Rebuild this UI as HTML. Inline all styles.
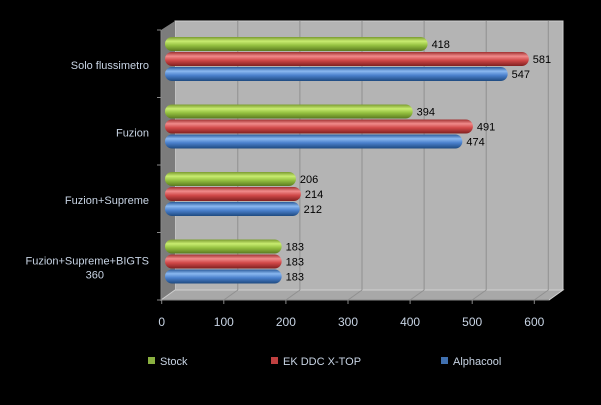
<!DOCTYPE html>
<html><head><meta charset="utf-8">
<style>
body{margin:0;background:#000;width:601px;height:405px;overflow:hidden;font-family:"Liberation Sans",sans-serif;}
svg{display:block}
</style></head>
<body>
<svg id="chart" width="601" height="405" xmlns="http://www.w3.org/2000/svg">
<defs>
<linearGradient id="gG" x1="0" y1="0" x2="0" y2="1"><stop offset="0" stop-color="#7a9a30"/><stop offset="0.3" stop-color="#c8ec70"/><stop offset="0.6" stop-color="#94c040"/><stop offset="1" stop-color="#5a7a20"/></linearGradient>
<linearGradient id="gR" x1="0" y1="0" x2="0" y2="1"><stop offset="0" stop-color="#a03030"/><stop offset="0.3" stop-color="#f08a8a"/><stop offset="0.6" stop-color="#d04848"/><stop offset="1" stop-color="#802020"/></linearGradient>
<linearGradient id="gB" x1="0" y1="0" x2="0" y2="1"><stop offset="0" stop-color="#2a5a9a"/><stop offset="0.3" stop-color="#8ab8f0"/><stop offset="0.6" stop-color="#4a80cc"/><stop offset="1" stop-color="#1e4a80"/></linearGradient>
</defs>
<polygon points="175,21 563,21 563,290 175,290" fill="#b4b4b4" stroke="#d0d0d0" stroke-width="1"/>
<polygon points="161,30 175,21 175,290 161,300" fill="#7c7c7c"/>
<polygon points="161,300 175,290 563,290 549,300" fill="#a8a8a8" stroke="#d0d0d0" stroke-width="1"/>
<g id="grid"></g>
<g id="bars"></g>
<g id="axes"></g>
<g id="legend"></g>
</svg>
<script>
const categories = ["Solo flussimetro","Fuzion","Fuzion+Supreme","Fuzion+Supreme+BIGTS|360"];
const stock = [418,394,206,183];
const ekddc = [581,491,214,183];
const alphacool = [547,474,212,183];
const xTicks = [0,100,200,300,400,500,600];
const seriesNames = ["Stock","EK DDC X-TOP","Alphacool"];

const NS="http://www.w3.org/2000/svg";
function mk(t,a,p){const e=document.createElementNS(NS,t);for(const k in a)e.setAttribute(k,a[k]);p.appendChild(e);return e;}
const axX=v=>161.7+v*0.621;
const barX=v=>168+v*0.621;
const groupTop=i=>37+i*67.5;
const grid=document.getElementById('grid'),bars=document.getElementById('bars'),axes=document.getElementById('axes'),legend=document.getElementById('legend');

xTicks.forEach(v=>{
  if(v>0){
    const l=mk('line',{x1:axX(v)+14,y1:21,x2:axX(v)+14,y2:290,stroke:'#909090','stroke-width':1},grid);
    
    const f=mk('line',{x1:axX(v)+14,y1:290,x2:axX(v),y2:300,stroke:'#909090','stroke-width':1},grid);
    
  }
  const tk=mk('line',{x1:axX(v),y1:300,x2:axX(v),y2:304,stroke:'#888'},axes);
  
  const t=mk('text',{x:axX(v),y:326,'text-anchor':'middle','font-size':12,fill:'#c8d4e4'},axes);
  t.textContent=v;
});
mk('line',{x1:161,y1:30,x2:161,y2:301,stroke:'#888'},axes);
mk('line',{x1:161,y1:300,x2:549,y2:300,stroke:'#888'},axes);
for(let i=0;i<=4;i++){const y=30+i*67.5;mk('line',{x1:157,y1:y,x2:161,y2:y,stroke:'#888'},axes);}

const series=[[stock,'url(#gG)','stock'],[ekddc,'url(#gR)','ek-ddc-x-top'],[alphacool,'url(#gB)','alphacool']];
categories.forEach((c,i)=>{
  const parts=c.split('|');
  const cy=groupTop(i)+28;
  const t=mk('text',{x:149,y:cy+4-(parts.length-1)*7,'text-anchor':'end','font-size':11,fill:'#c8d4e4'},axes);
  
  parts.forEach((p,j)=>{const s=mk('tspan',{x:parts.length>1&&j==1?104:149,dy:j?14:0},t);s.textContent=p;});
  series.forEach((s,k)=>{
    const v=s[0][i],y=groupTop(i)+k*15,w=barX(v)-165;
    const r=mk('rect',{x:165,y:y,width:w,height:14,rx:7,ry:7,fill:s[1]},bars);
    
    const lb=mk('text',{x:barX(v)+4,y:y+11,'font-size':11,fill:'#000'},bars);
    lb.textContent=v;
  });
});
const lx=[148,271,441],cols=['#8ab040','#c04040','#4070b0'];
seriesNames.forEach((n,k)=>{
  const r=mk('rect',{x:lx[k],y:357,width:7,height:7,fill:cols[k]},legend);
  
  const t=mk('text',{x:lx[k]+12,y:365,'font-size':11,fill:'#c8d4e4'},legend);
  t.textContent=n;
});
</script>
</body></html>
